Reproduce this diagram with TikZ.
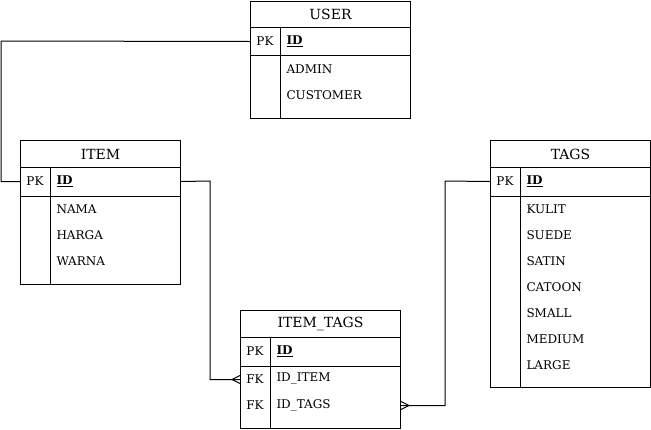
\documentclass[tikz,border=0pt]{standalone}
\usepackage{fontspec}
\setmainfont{DejaVu Serif}
\usetikzlibrary{calc}
\begin{document}
\begin{tikzpicture}[x=1pt,y=-1pt,line width=1pt,
  ent/.style={draw=black,fill=white,anchor=north west,inner sep=0pt},
  rowbox/.style={anchor=north west,inner sep=0pt,minimum width=160pt},
  ttl/.style={font=\fontsize{14}{16}\selectfont,inner sep=0pt},
  fld/.style={font=\fontsize{12}{14}\selectfont,anchor=west,inner sep=0pt},
  keylbl/.style={font=\fontsize{12}{14}\selectfont,inner sep=0pt},
  rel/.style={draw=black,line width=1pt}]
\useasboundingbox (0,0) rectangle (651,429);

% ---------- USER ----------
\node[ent,minimum width=160pt,minimum height=117pt] (user) at (250,1) {};
\node[rowbox,minimum height=26pt] (usert) at (250,1) {};
\node[ttl] at (usert.center) {USER};
\draw (250,27) -- (410,27);
\draw (250,55) -- (410,55);
\draw (280,27) -- (280,118);
\node[rowbox,minimum height=28pt] (userpk) at (250,27) {};
\node[keylbl] at (265,41) {PK};
\node[fld] at (286,41) {\underline{\textbf{ID}}};
\node[fld] at (286,69) {ADMIN};
\node[fld] at (286,95) {CUSTOMER};

% ---------- ITEM ----------
\node[ent,minimum width=160pt,minimum height=144pt] (item) at (20,140) {};
\node[rowbox,minimum height=27pt] (itemt) at (20,140) {};
\node[ttl] at (itemt.center) {ITEM};
\draw (20,167) -- (180,167);
\draw (20,196) -- (180,196);
\draw (50,167) -- (50,284);
\node[rowbox,minimum height=28pt] (itempk) at (20,167) {};
\node[keylbl] at (35,181) {PK};
\node[fld] at (56,181) {\underline{\textbf{ID}}};
\node[fld] at (56,209) {NAMA};
\node[fld] at (56,235) {HARGA};
\node[fld] at (56,261) {WARNA};

% ---------- TAGS ----------
\node[ent,minimum width=160pt,minimum height=247pt] (tags) at (490,140) {};
\node[rowbox,minimum height=27pt] (tagst) at (490,140) {};
\node[ttl] at (tagst.center) {TAGS};
\draw (490,167) -- (650,167);
\draw (490,196) -- (650,196);
\draw (520,167) -- (520,387);
\node[rowbox,minimum height=28pt] (tagspk) at (490,167) {};
\node[keylbl] at (505,181) {PK};
\node[fld] at (526,181) {\underline{\textbf{ID}}};
\node[fld] at (526,209) {KULIT};
\node[fld] at (526,235) {SUEDE};
\node[fld] at (526,261) {SATIN};
\node[fld] at (526,287) {CATOON};
\node[fld] at (526,313) {SMALL};
\node[fld] at (526,339) {MEDIUM};
\node[fld] at (526,365) {LARGE};

% ---------- ITEM_TAGS ----------
\node[ent,minimum width=160pt,minimum height=118pt] (it) at (240,310) {};
\node[rowbox,minimum height=27pt] (itt) at (240,310) {};
\node[ttl] at (itt.center) {ITEM\_TAGS};
\draw (240,337) -- (400,337);
\draw (240,366) -- (400,366);
\draw (270,337) -- (270,428);
\node[rowbox,minimum height=28pt] (itpk) at (240,337) {};
\node[keylbl] at (255,351) {PK};
\node[fld] at (276,351) {\underline{\textbf{ID}}};
\node[rowbox,minimum height=26pt] (itfk1) at (240,366) {};
\node[keylbl] at (255,379) {FK};
\node[fld] at (276,379) {ID\_ITEM};
\node[rowbox,minimum height=26pt] (itfk2) at (240,392) {};
\node[keylbl] at (255,405) {FK};
\node[fld] at (276,405) {ID\_TAGS};

% ---------- connectors ----------
\coordinate (b1) at (1,41);
\draw[rel] (userpk.west) -- (b1) |- (itempk.west);

\coordinate (b2) at (210,181);
\draw[rel] (itempk.east) -- (b2) |- (itfk1.west);
\draw[rel] ($(itfk1.west)+(-8,0)$) -- ++(8,-4)
           ($(itfk1.west)+(-8,0)$) -- ++(8,4);

\coordinate (b3) at (445,181);
\draw[rel] (tagspk.west) -- (b3) |- (itfk2.east);
\draw[rel] ($(itfk2.east)+(8,0)$) -- ++(-8,-4)
           ($(itfk2.east)+(8,0)$) -- ++(-8,4);
\end{tikzpicture}
\end{document}
